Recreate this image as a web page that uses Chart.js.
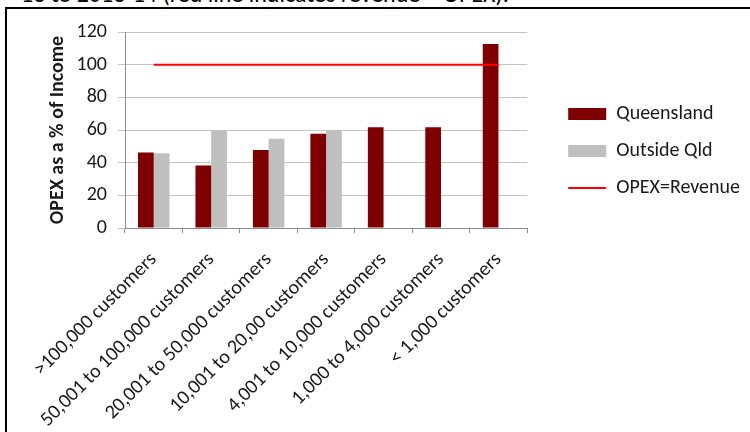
<!DOCTYPE html>
<html>
<head>
<meta charset="utf-8">
<script src="https://cdn.jsdelivr.net/npm/chart.js@4.4.0/dist/chart.umd.min.js"></script>
<style>
  html, body { margin: 0; padding: 0; background: #fff; overflow: hidden; }
  body { width: 750px; height: 432px; position: relative; font-family: Carlito, Lato, sans-serif; }
  #caption { position: absolute; left: 21px; top: -18.5px; font-size: 24px; line-height: 24px; color: #000; white-space: nowrap; }
  #frame { position: absolute; left: 5px; top: 7px; width: 760px; height: 440px; border-top: 2px solid #000; border-left: 2px solid #000; }
  #wrap { position: absolute; left: 7px; top: 9px; width: 743px; height: 423px; }
</style>
</head>
<body>
<div id="caption">13 to 2013-14 (red line indicates revenue = OPEX).</div>
<div id="frame"></div>
<div id="wrap"><canvas id="opexChart"></canvas></div>
<script>
// Chart data
const categories = [
    '>100,000 customers',
    '50,001 to 100,000 customers',
    '20,001 to 50,000 customers',
    '10,001 to 20,00 customers',
    '4,001 to 10,000 customers',
    '1,000 to 4,000 customers',
    '< 1,000 customers'
];
const queensland = [46.2, 38.3, 47.7, 57.7, 61.7, 61.7, 112.7];
const outsideQld = [45.7, 59.5, 54.7, 59.9, null, null, null];
const breakEven = [100, 100, 100, 100, 100, 100, 100];
const yTicks = [0, 20, 40, 60, 80, 100, 120];

const FONT = 'Carlito, Lato, sans-serif';

// legend: boxes for bars, a short line for the line series
function legendItems(chart) {
    const items = Chart.defaults.plugins.legend.labels.generateLabels(chart);
    items.forEach(it => {
        it.pointStyle = chart.data.datasets[it.datasetIndex].type === 'line' ? 'line' : 'rect';
    });
    return items;
}

// layout caps side boxes at a fraction of the width; let the legend take what it needs
const wideLegend = {
    id: 'wideLegend',
    afterInit(chart) {
        const legend = chart.legend;
        const update = legend.update.bind(legend);
        legend.update = (maxWidth, maxHeight, margins) => update(Math.max(maxWidth, 260), maxHeight, margins);
    }
};

const ctx = document.getElementById('opexChart').getContext('2d');
const opexChart = new Chart(ctx, {
    data: {
        labels: categories,
        datasets: [
            {
                type: 'bar',
                label: 'Queensland',
                data: queensland,
                backgroundColor: '#7f0000',
                borderWidth: 0,
                order: 1
            },
            {
                type: 'bar',
                label: 'Outside Qld',
                data: outsideQld,
                backgroundColor: '#bfbfbf',
                borderWidth: 0,
                order: 1
            },
            {
                type: 'line',
                label: 'OPEX=Revenue',
                data: breakEven,
                borderColor: '#ff0000',
                backgroundColor: '#ff0000',
                borderWidth: 2,
                pointRadius: 0,
                order: 0
            }
        ]
    },
    plugins: [wideLegend],
    options: {
        responsive: true,
        maintainAspectRatio: false,
        animation: false,
        layout: { padding: { top: 22, right: 0, bottom: 0, left: 0 } },
        datasets: {
            bar: { categoryPercentage: 0.547, barPercentage: 1 }
        },
        plugins: {
            tooltip: { enabled: false },
            legend: {
                position: 'right',
                align: 'start',
                title: { display: true, text: '', font: { size: 10 }, padding: { top: 0, bottom: 44 } },
                labels: {
                    generateLabels: legendItems,
                    sort: (a, b) => a.datasetIndex - b.datasetIndex,
                    usePointStyle: true,
                    pointStyleWidth: 38,
                    boxHeight: 12,
                    padding: 17,
                    color: '#1a1a1a',
                    font: { family: FONT, size: 20 }
                }
            }
        },
        scales: {
            x: {
                type: 'category',
                offset: true,
                grid: { display: true, offset: true, drawOnChartArea: false, drawTicks: true, tickLength: 5, color: '#8c8c8c' },
                border: { color: '#8c8c8c' },
                ticks: {
                    autoSkip: false,
                    minRotation: 45,
                    maxRotation: 45,
                    padding: 15,
                    color: '#1a1a1a',
                    font: { family: FONT, size: 20 }
                },
                afterFit: s => { s.height = 204; }
            },
            y: {
                min: 0,
                max: 120,
                afterBuildTicks: s => { s.ticks = yTicks.map(v => ({ value: v })); },
                grid: { color: '#c4c4c4', tickLength: 7, drawTicks: true },
                border: { color: '#8c8c8c' },
                ticks: { padding: 11, color: '#1a1a1a', font: { family: FONT, size: 20 } },
                title: {
                    display: true,
                    text: 'OPEX as a % of Income',
                    color: '#1a1a1a',
                    font: { family: FONT, size: 20, weight: 'bold' },
                    padding: { top: 39, bottom: 0 }
                },
                afterFit: s => { s.width = 118; }
            },
            // empty spacer between the plot and the legend
            gap: {
                position: 'right',
                display: true,
                grid: { display: false },
                border: { display: false },
                ticks: { display: false },
                afterFit: s => { s.width = 24; }
            }
        }
    }
});
</script>
</body>
</html>
